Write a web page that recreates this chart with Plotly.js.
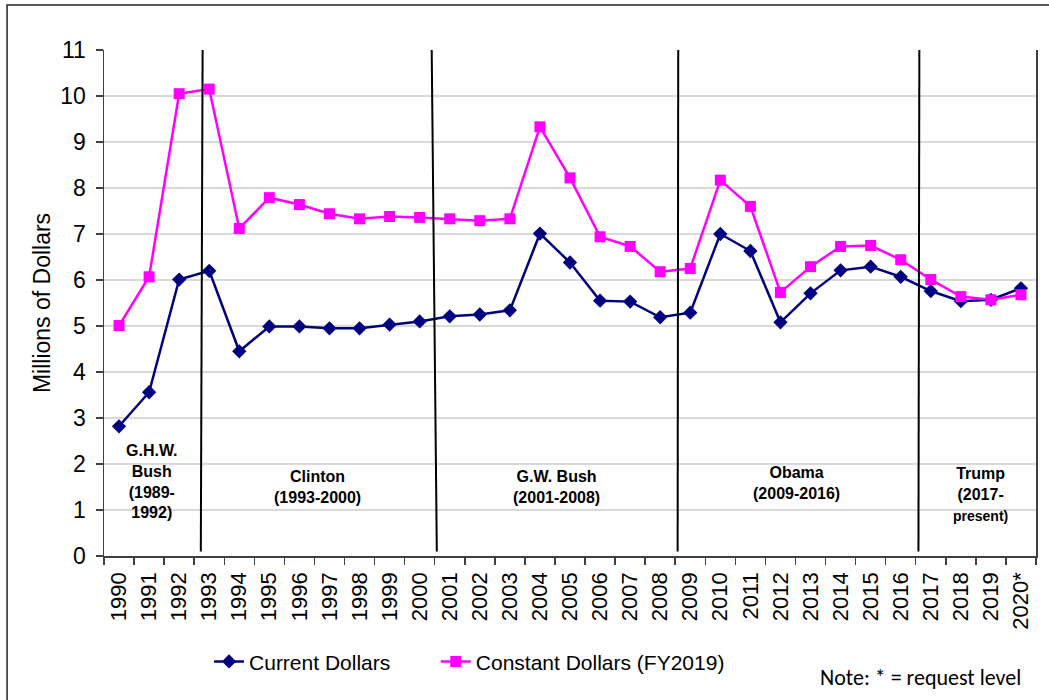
<!DOCTYPE html>
<html>
<head>
<meta charset="utf-8">
<script src="https://cdn.plot.ly/plotly-3.0.1.min.js"></script>
<style>html,body{margin:0;padding:0;background:#fff;}#chart{width:1049px;height:700px;}</style>
</head>
<body>
<div id="chart"></div>
<script>
const years = ["1990","1991","1992","1993","1994","1995","1996","1997","1998","1999","2000",
  "2001","2002","2003","2004","2005","2006","2007","2008","2009","2010",
  "2011","2012","2013","2014","2015","2016","2017","2018","2019","2020*"];
const currentDollars = [2.82,3.56,6.01,6.20,4.45,4.99,4.99,4.95,4.95,5.03,5.10,
  5.21,5.25,5.34,7.01,6.38,5.55,5.53,5.19,5.29,7.00,
  6.63,5.08,5.71,6.21,6.29,6.07,5.76,5.54,5.57,5.82];
const constantDollars = [5.01,6.07,10.05,10.15,7.12,7.79,7.64,7.44,7.33,7.38,7.36,
  7.33,7.29,7.33,9.33,8.22,6.94,6.73,6.18,6.25,8.17,
  7.60,5.73,6.29,6.73,6.75,6.44,6.01,5.64,5.57,5.68];
const seriesNames = ["Current Dollars", "Constant Dollars (FY2019)"];
const presidents = [
  {label: "G.H.W.<br>Bush<br>(1989-<br>1992)", x: 1.09, y: 1.62},
  {label: "Clinton<br>(1993-2000)", x: 6.59, y: 1.49},
  {label: "G.W. Bush<br>(2001-2008)", x: 14.54, y: 1.49},
  {label: "Obama<br>(2009-2016)", x: 22.54, y: 1.58},
  {label: "Trump<br>(2017-<br><span style=\"font-size:14px\">present)</span>", x: 28.64, y: 1.34}
];
// term boundary lines (category-index positions): [xTop, xBottom]
const termLines = [[2.78, 2.72], [10.40, 10.57], [18.60, 18.58], [26.62, 26.59]];
const noteText = "Note: * = request level";

const FONT = "Liberation Sans, Arial, sans-serif";

const traces = [
  {
    x: years, y: currentDollars, name: seriesNames[0], type: "scatter", mode: "lines+markers",
    legend: "legend",
    line: {color: "#000080", width: 2.5},
    marker: {symbol: "diamond", size: 11, color: "#000080"}
  },
  {
    x: years, y: constantDollars, name: seriesNames[1], type: "scatter", mode: "lines+markers",
    legend: "legend2",
    line: {color: "#FF00FF", width: 2.5},
    marker: {symbol: "square", size: 11, color: "#FF00FF"}
  }
];

const shapes = termLines.map(function (p) {
  return {type: "line", xref: "x", yref: "y", x0: p[0], y0: 11.0, x1: p[1], y1: 0.1,
    line: {color: "#000", width: 2}};
});
shapes.push({type: "rect", xref: "paper", yref: "paper", x0: -0.104, x1: 1.03, y0: 1.089, y1: -0.4,
  line: {color: "#222", width: 1.5}, fillcolor: "rgba(0,0,0,0)"});

const annotations = presidents.map(function (p) {
  return {x: p.x, y: p.y, xref: "x", yref: "y", text: "<b>" + p.label + "</b>", showarrow: false,
    font: {family: FONT, size: 16, color: "#000"}, align: "center", xanchor: "center", yanchor: "middle"};
});
annotations.push({x: 0.986, y: -0.241, xref: "paper", yref: "paper", text: noteText, showarrow: false,
  xanchor: "right", yanchor: "middle", font: {family: "Carlito, Calibri, Liberation Sans, sans-serif", size: 22, color: "#000"}});

const legendBase = {orientation: "h", xanchor: "left", y: -0.209, yanchor: "middle",
  font: {family: FONT, size: 21, color: "#000"}, bgcolor: "rgba(0,0,0,0)"};

const layout = {
  width: 1049, height: 700,
  margin: {l: 104, r: 13, t: 50, b: 144},
  paper_bgcolor: "#fff", plot_bgcolor: "#fff",
  font: {family: FONT, color: "#000"},
  showlegend: true,
  legend: Object.assign({}, legendBase, {x: 0.1127}),
  legend2: Object.assign({}, legendBase, {x: 0.356}),
  xaxis: {
    type: "category", range: [-0.5, 30.5], tickson: "boundaries", ticks: "outside", ticklen: 7,
    tickcolor: "#404040", tickwidth: 1.5, showline: true, linecolor: "#404040", linewidth: 1.5,
    showgrid: false, tickangle: -90, tickfont: {family: FONT, size: 22, color: "#000"},
    ticklabelstandoff: 6,
    fixedrange: true
  },
  yaxis: {
    range: [0, 11], dtick: 1, tick0: 0, ticks: "outside", ticklen: 7, tickcolor: "#404040", tickwidth: 1.5,
    showline: true, linecolor: "#404040", linewidth: 1.5, mirror: true,
    showgrid: true, gridcolor: "#d9d9d9", gridwidth: 2, zeroline: false,
    tickfont: {family: FONT, size: 23, color: "#000"},
    ticklabelstandoff: 5,
    title: {text: "Millions of Dollars", font: {family: FONT, size: 23, color: "#000"}, standoff: 3},
    fixedrange: true
  },
  shapes: shapes,
  annotations: annotations
};

Plotly.newPlot("chart", traces, layout, {displayModeBar: false, staticPlot: true});
</script>
</body>
</html>
